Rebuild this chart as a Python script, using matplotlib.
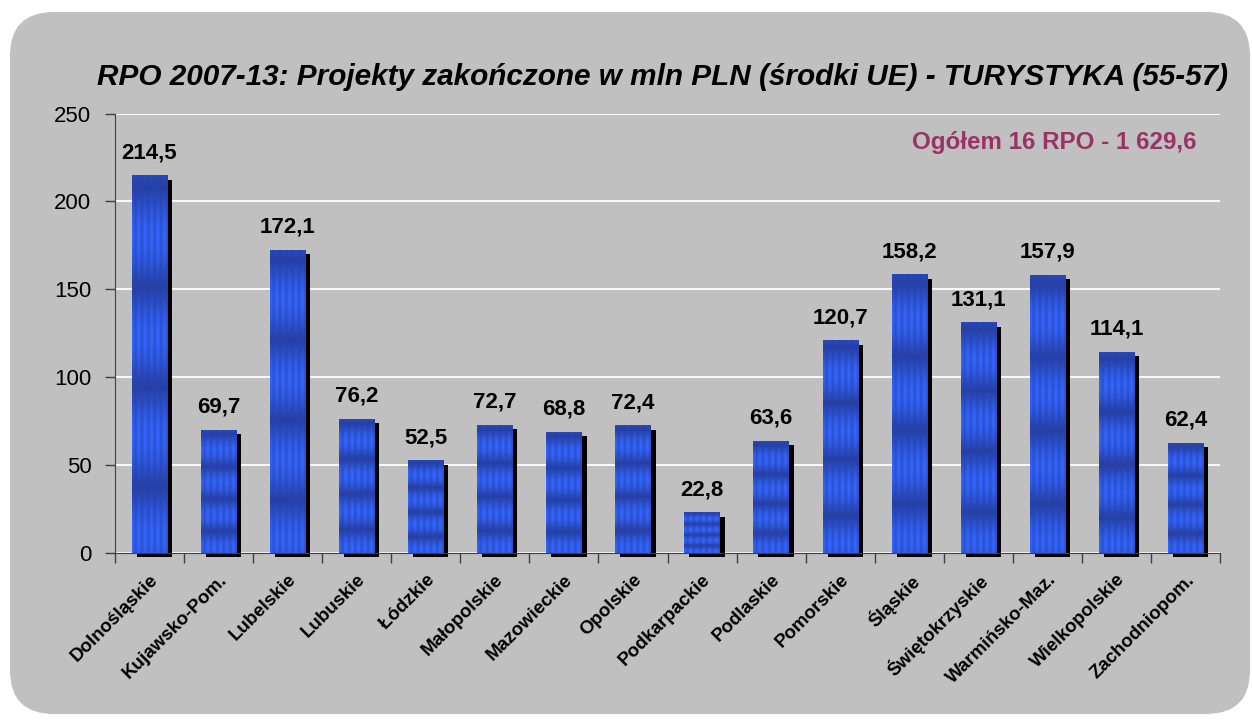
import numpy as np
import matplotlib
matplotlib.use("Agg")
import matplotlib.pyplot as plt
from matplotlib.patches import FancyBboxPatch, Rectangle
import matplotlib.transforms as mtransforms

# dane
regions = ["Dolnośląskie", "Kujawsko-Pom.", "Lubelskie", "Lubuskie", "Łódzkie",
           "Małopolskie", "Mazowieckie", "Opolskie", "Podkarpackie", "Podlaskie",
           "Pomorskie", "Śląskie", "Świętokrzyskie", "Warmińsko-Maz.",
           "Wielkopolskie", "Zachodniopom."]
values = [214.5, 69.7, 172.1, 76.2, 52.5, 72.7, 68.8, 72.4, 22.8, 63.6,
          120.7, 158.2, 131.1, 157.9, 114.1, 62.4]
y_ticks = [0, 50, 100, 150, 200, 250]
title = "RPO 2007-13: Projekty zakończone w mln PLN (środki UE) - TURYSTYKA (55-57)"
total_label = "Ogółem 16 RPO - 1 629,6"

plt.rcParams["font.family"] = ["Liberation Sans", "DejaVu Sans"]

BG = "#C0C0C0"
BRIGHT = np.array([0x33, 0x66, 0xFF]) / 255
DARK = np.array([0x26, 0x40, 0xA6]) / 255

fig = plt.figure(figsize=(12.52, 7.22), dpi=100, facecolor="white")
# zaokrąglone tło
fig.patches.append(FancyBboxPatch((10 / 1252, 8 / 722), 1240 / 1252, 702 / 722,
                                  boxstyle="round,pad=0,rounding_size=0.035",
                                  transform=fig.transFigure, facecolor=BG,
                                  edgecolor="none", mutation_aspect=1252 / 722,
                                  zorder=-10))

ax = fig.add_axes([115 / 1252, (722 - 553) / 722, 1105 / 1252, 439.5 / 722])
ax.set_facecolor(BG)


def bar_texture(nx=40, ny=240):
    """tekstura słupka: pionowe paski i poziome ciemne pasy"""
    u = np.linspace(0, 1, nx)
    f = np.linspace(0, 1, ny)
    bx = 0.5 + 0.5 * np.cos(2 * np.pi * u * 5.5)
    by = 0.5 - 0.5 * np.cos(2 * np.pi * (f - 0.03) / 0.265)
    by = by ** 0.6
    w = by[:, None] * (0.5 + 0.5 * bx[None, :])
    return DARK[None, None, :] + (BRIGHT - DARK)[None, None, :] * w[:, :, None]


tex = bar_texture()
width = 0.51
shadow_tr = mtransforms.offset_copy(ax.transData, fig=fig, x=5, y=-4, units="dots")
for i, v in enumerate(values):
    x0 = i - width / 2
    ax.add_patch(Rectangle((x0, 0), width, v, facecolor="black", edgecolor="none",
                           transform=shadow_tr, zorder=2, clip_on=False))
    ax.imshow(tex, extent=(x0, x0 + width, 0, v), origin="upper", aspect="auto",
              interpolation="bilinear", zorder=3)
    ax.annotate(f"{v:.1f}".replace(".", ","), (i, v), xytext=(0, 9),
                textcoords="offset points", ha="center", va="bottom",
                fontsize=16, fontweight="bold", zorder=4)

ax.set_xlim(-0.5, len(values) - 0.5)
ax.set_ylim(0, 250)
ax.set_yticks(y_ticks)
ax.set_yticklabels([str(t) for t in y_ticks], fontsize=16)
ax.yaxis.grid(True, color="white", linewidth=1.3)
ax.set_axisbelow(True)

ax.set_xticks(np.arange(len(values) + 1) - 0.5)
ax.set_xticklabels([])
ax.set_xticks(np.arange(len(values)), minor=True)
ax.set_xticklabels(regions, minor=True, rotation=45, ha="right",
                   rotation_mode="anchor", fontsize=13.5, fontweight="bold")
ax.tick_params(axis="x", which="minor", length=0, pad=13)
ax.tick_params(axis="both", which="major", length=7, color="#404040", width=1)
ax.tick_params(axis="y", pad=10)

for s in ["top", "right"]:
    ax.spines[s].set_visible(False)
for s in ["left", "bottom"]:
    ax.spines[s].set_color("#404040")

fig.text(0.529, 1 - 77 / 722, title, ha="center", va="center", fontsize=21.4,
         fontweight="bold", fontstyle="italic")
fig.text(1197 / 1252, 1 - 143 / 722, total_label, ha="right", va="center",
         fontsize=17.4, fontweight="bold", color="#993366")

fig.savefig("out.png", dpi=100, facecolor="white")
